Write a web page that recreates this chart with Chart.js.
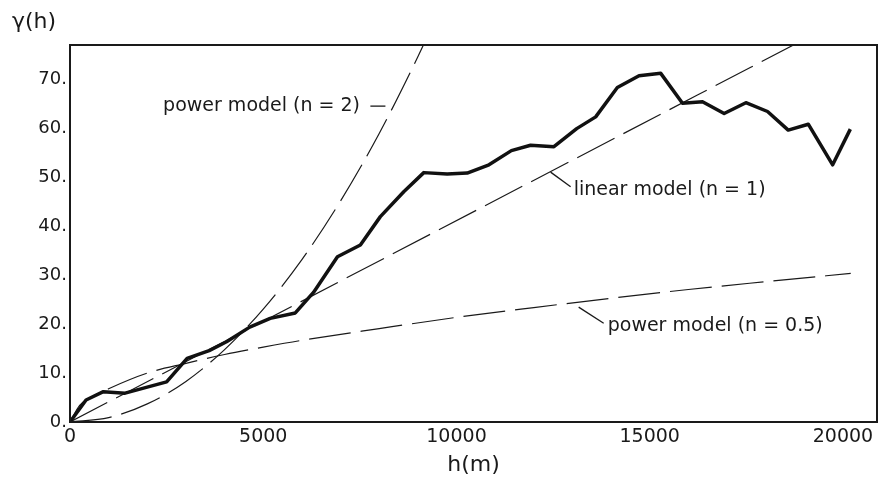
<!DOCTYPE html>
<html>
<head>
<meta charset="utf-8">
<script src="https://cdn.jsdelivr.net/npm/chart.js@4.4.0/dist/chart.umd.min.js"></script>
<style>
  html, body { margin: 0; padding: 0; background: #fff; }
  #wrap { width: 882px; height: 485px; }
</style>
</head>
<body>
<div id="wrap"><canvas id="vario" width="882" height="485"></canvas></div>
<script>
// experimental variogram (lag h in m, gamma)
const lagH = [0, 415, 863, 1425, 2500, 3030, 3600, 4050, 4650, 5180, 5830, 6300, 6920, 7513, 8030,
  8635, 9154, 9758, 10277, 10840, 11420, 11917, 12521, 13110, 13601, 14162, 14723, 15285, 15847, 16365,
  16925, 17487, 18048, 18583, 19102, 19733, 20190];
const gammaExp = [0, 4.5, 6.2, 5.9, 8.2, 13.0, 14.6, 16.4, 19.4, 21.2, 22.3, 26.5, 33.8, 36.2, 42,
  47.1, 51, 50.7, 50.9, 52.6, 55.5, 56.6, 56.3, 60.0, 62.4, 68.4, 70.8, 71.3, 65.2, 65.5,
  63.1, 65.3, 63.5, 59.7, 60.9, 52.6, 59.9];

// model curves
const linH = [0, 20200];
const linG = [0, 83.2];
const pow2H = [0, 1000, 2000, 3000, 4000, 5000, 6000, 7000, 8000, 9000, 9500];
const pow2G = [0, 0.9, 3.7, 8.3, 14.8, 23.1, 33.2, 45.2, 59, 74.7, 83.2];
const pow05H = [0, 250, 500, 1000, 2000, 3000, 4000, 5000, 6000, 8000, 10000, 12000, 14000, 16000, 18000, 20200];
const pow05G = [0, 3.4, 4.8, 6.8, 10.0, 12.0, 13.8, 15.3, 16.7, 19.1, 21.4, 23.4, 25.3, 27.1, 28.7, 30.4];

const xTicks = [0, 5000, 10000, 15000, 20000];
const yTicks = [0, 10, 20, 30, 40, 50, 60, 70];

// labels with leader lines: [text, textH, textG, lineH1, lineG1, lineH2, lineG2]
const notes = [
  ['power model (n = 2)', 2409, 64.6, 7772, 64.6, 8161, 64.6],
  ['linear model (n = 1)', 13031, 47.4, 12435, 51.1, 12953, 48.1],
  ['power model (n = 0.5)', 13912, 19.6, 13161, 23.5, 13808, 20.2]
];

const pts = (xs, ys) => xs.map((v, i) => ({ x: v, y: ys[i] }));
const FONT = '"DejaVu Sans", sans-serif';

const dashedModel = (xs, ys) => ({
  data: pts(xs, ys),
  borderColor: '#1a1a1a',
  borderWidth: 1.2,
  borderDash: [42, 10],
  pointRadius: 0,
  cubicInterpolationMode: 'monotone',
  fill: false
});

const frameAndNotes = {
  id: 'frameAndNotes',
  afterDraw(chart) {
    const { ctx, chartArea: a, scales: { x, y } } = chart;
    ctx.save();
    ctx.strokeStyle = '#1a1a1a';
    ctx.lineWidth = 2;
    ctx.strokeRect(a.left, a.top, a.right - a.left, a.bottom - a.top);

    ctx.fillStyle = '#1a1a1a';
    ctx.font = '22px ' + FONT;
    ctx.textBaseline = 'middle';
    ctx.textAlign = 'left';
    ctx.fillText('γ(h)', 12, 22);
    ctx.textAlign = 'center';
    ctx.fillText('h(m)', (a.left + a.right) / 2, 465);

    ctx.font = '19px ' + FONT;
    ctx.textAlign = 'left';
    ctx.lineWidth = 1.3;
    notes.forEach(n => {
      ctx.fillText(n[0], x.getPixelForValue(n[1]), y.getPixelForValue(n[2]));
      ctx.beginPath();
      ctx.moveTo(x.getPixelForValue(n[3]), y.getPixelForValue(n[4]));
      ctx.lineTo(x.getPixelForValue(n[5]), y.getPixelForValue(n[6]));
      ctx.stroke();
    });
    ctx.restore();
  }
};

new Chart(document.getElementById('vario').getContext('2d'), {
  type: 'line',
  data: {
    datasets: [
      {
        data: pts(lagH, gammaExp),
        borderColor: '#111',
        borderWidth: 3.5,
        pointRadius: 0,
        tension: 0,
        borderJoinStyle: 'round',
        fill: false
      },
      dashedModel(pow2H, pow2G),
      dashedModel(linH, linG),
      dashedModel(pow05H, pow05G)
    ]
  },
  options: {
    responsive: false,
    animation: false,
    layout: { padding: { left: 0, right: 5, top: 45, bottom: 0 } },
    scales: {
      x: {
        type: 'linear',
        min: 0,
        max: 20880,
        afterBuildTicks: s => { s.ticks = xTicks.map(v => ({ value: v })); },
        afterFit: s => { s.height = 63; },
        grid: { display: false, drawTicks: false },
        border: { display: false },
        ticks: {
          padding: 4,
          maxRotation: 0,
          color: '#1a1a1a',
          font: { family: FONT, size: 19 },
          callback: v => String(v)
        }
      },
      y: {
        type: 'linear',
        min: 0,
        max: 77.1,
        afterBuildTicks: s => { s.ticks = yTicks.map(v => ({ value: v })); },
        afterFit: s => { s.width = 70; },
        grid: { display: false, drawTicks: false },
        border: { display: false },
        ticks: {
          padding: 3,
          color: '#1a1a1a',
          font: { family: FONT, size: 18 },
          callback: v => v + '.'
        }
      }
    },
    plugins: {
      legend: { display: false },
      tooltip: { enabled: false },
      title: { display: false }
    }
  },
  plugins: [frameAndNotes]
});
</script>
</body>
</html>
